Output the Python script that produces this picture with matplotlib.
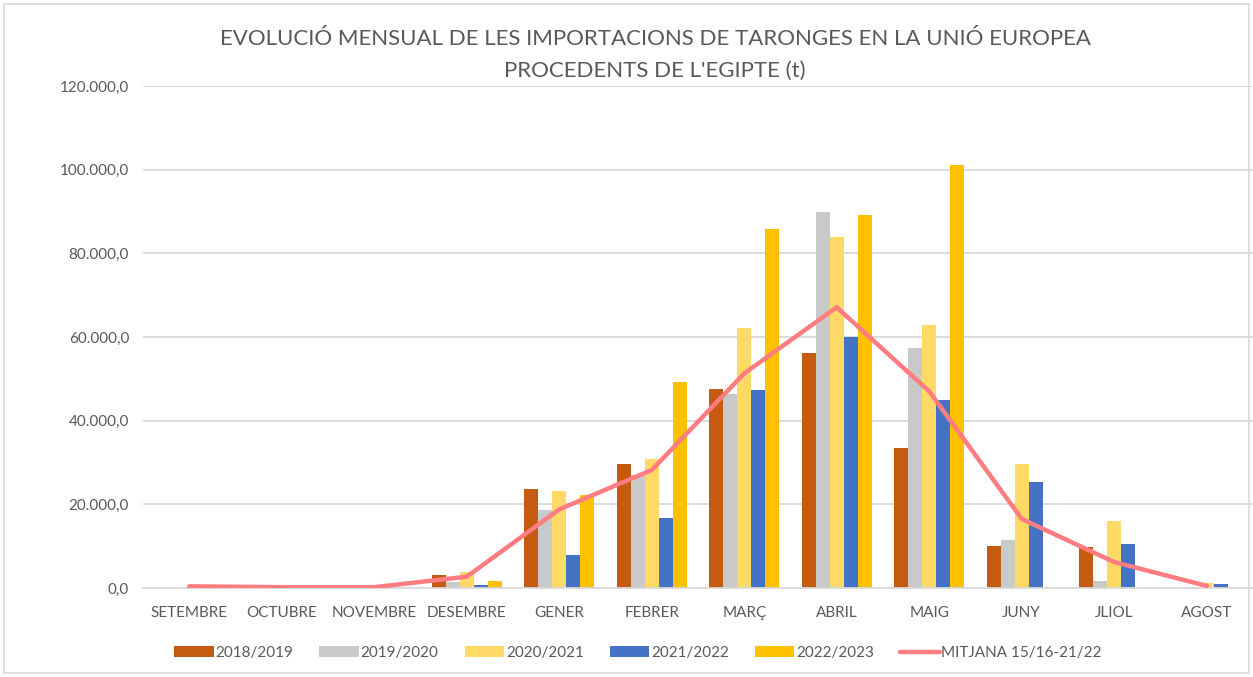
import numpy as np
import matplotlib
matplotlib.use("Agg")
import matplotlib.pyplot as plt
from matplotlib.patches import Rectangle
from matplotlib.ticker import FuncFormatter, MultipleLocator

plt.rcParams['font.family'] = ['Lato', 'DejaVu Sans']

months = ["SETEMBRE", "OCTUBRE", "NOVEMBRE", "DESEMBRE", "GENER", "FEBRER",
          "MARÇ", "ABRIL", "MAIG", "JUNY", "JLIOL", "AGOST"]

# tones per month
s2018 = [0, 0, 0, 3200, 23600, 29600, 47500, 56100, 33400, 10000, 9800, 0]
s2019 = [0, 0, 0, 1500, 18600, 27000, 46300, 89800, 57300, 11500, 1700, 200]
s2020 = [0, 0, 0, 3800, 23100, 30800, 62100, 83900, 62800, 29600, 16000, 1200]
s2021 = [0, 0, 0, 700, 7900, 16700, 47300, 60100, 44900, 25300, 10500, 1000]
s2022 = [0, 0, 0, 1700, 22200, 49200, 85800, 89100, 101200, 0, 0, 0]
mitjana = [400, 200, 200, 2700, 18800, 28200, 51300, 67100, 47000, 16500, 6200, 500]

series = [("2018/2019", s2018, "#C55A11"),
          ("2019/2020", s2019, "#C9C9C9"),
          ("2020/2021", s2020, "#FFD966"),
          ("2021/2022", s2021, "#4472C4"),
          ("2022/2023", s2022, "#FFC000")]

txt = "#595959"
grid = "#D9D9D9"

fig = plt.figure(figsize=(12.53, 6.77), dpi=100)
ax = fig.add_axes([143 / 1253, 1 - 588 / 677, 1110 / 1253, (588 - 86) / 677])

x = np.arange(len(months))
w = 0.151
handles = []
for i, (name, vals, col) in enumerate(series):
    b = ax.bar(x + (i - 2) * w, vals, width=w, color=col, label=name, zorder=2)
    handles.append(b)

ln, = ax.plot(x, mitjana, color="#FF7C80", lw=3.2, solid_capstyle="round",
              label="MITJANA 15/16-21/22", zorder=3)
handles.append(ln)

ax.set_xlim(-0.5, 11.5)
ax.set_ylim(0, 120000)
ax.yaxis.set_major_locator(MultipleLocator(20000))
ax.yaxis.set_major_formatter(FuncFormatter(
    lambda v, p: f"{v:,.1f}".replace(",", "X").replace(".", ",").replace("X", ".")))
ax.set_xticks(x)
ax.set_xticklabels(months)
ax.tick_params(axis="both", length=0, labelsize=11, colors=txt)
ax.tick_params(axis="x", pad=13)
ax.tick_params(axis="y", pad=10)
ax.grid(axis="y", color=grid, lw=1.3, zorder=0)
for s in ["top", "right", "left"]:
    ax.spines[s].set_visible(False)
ax.spines["bottom"].set_color(grid)
ax.spines["bottom"].set_linewidth(1.3)

fig.text(655 / 1253, 1 - 39 / 677, "EVOLUCIÓ MENSUAL DE LES IMPORTACIONS DE TARONGES EN LA UNIÓ EUROPEA",
         ha="center", va="center", fontsize=16, color=txt)
fig.text(655 / 1253, 1 - 71 / 677, "PROCEDENTS DE L'EGIPTE (t)",
         ha="center", va="center", fontsize=16, color=txt)

fig.legend(handles=handles, loc="center", bbox_to_anchor=(638 / 1253, 1 - 653 / 677), ncol=6,
           frameon=False, fontsize=11, handlelength=2.6, handleheight=0.75,
           handletextpad=0.1, columnspacing=1.7, labelcolor=txt)

fig.patches.append(Rectangle((4 / 1253, 4 / 677), 1 - 8 / 1253, 1 - 8 / 677,
                             transform=fig.transFigure, fill=False,
                             edgecolor=grid, lw=1.2))

fig.savefig("out.png", dpi=100)
